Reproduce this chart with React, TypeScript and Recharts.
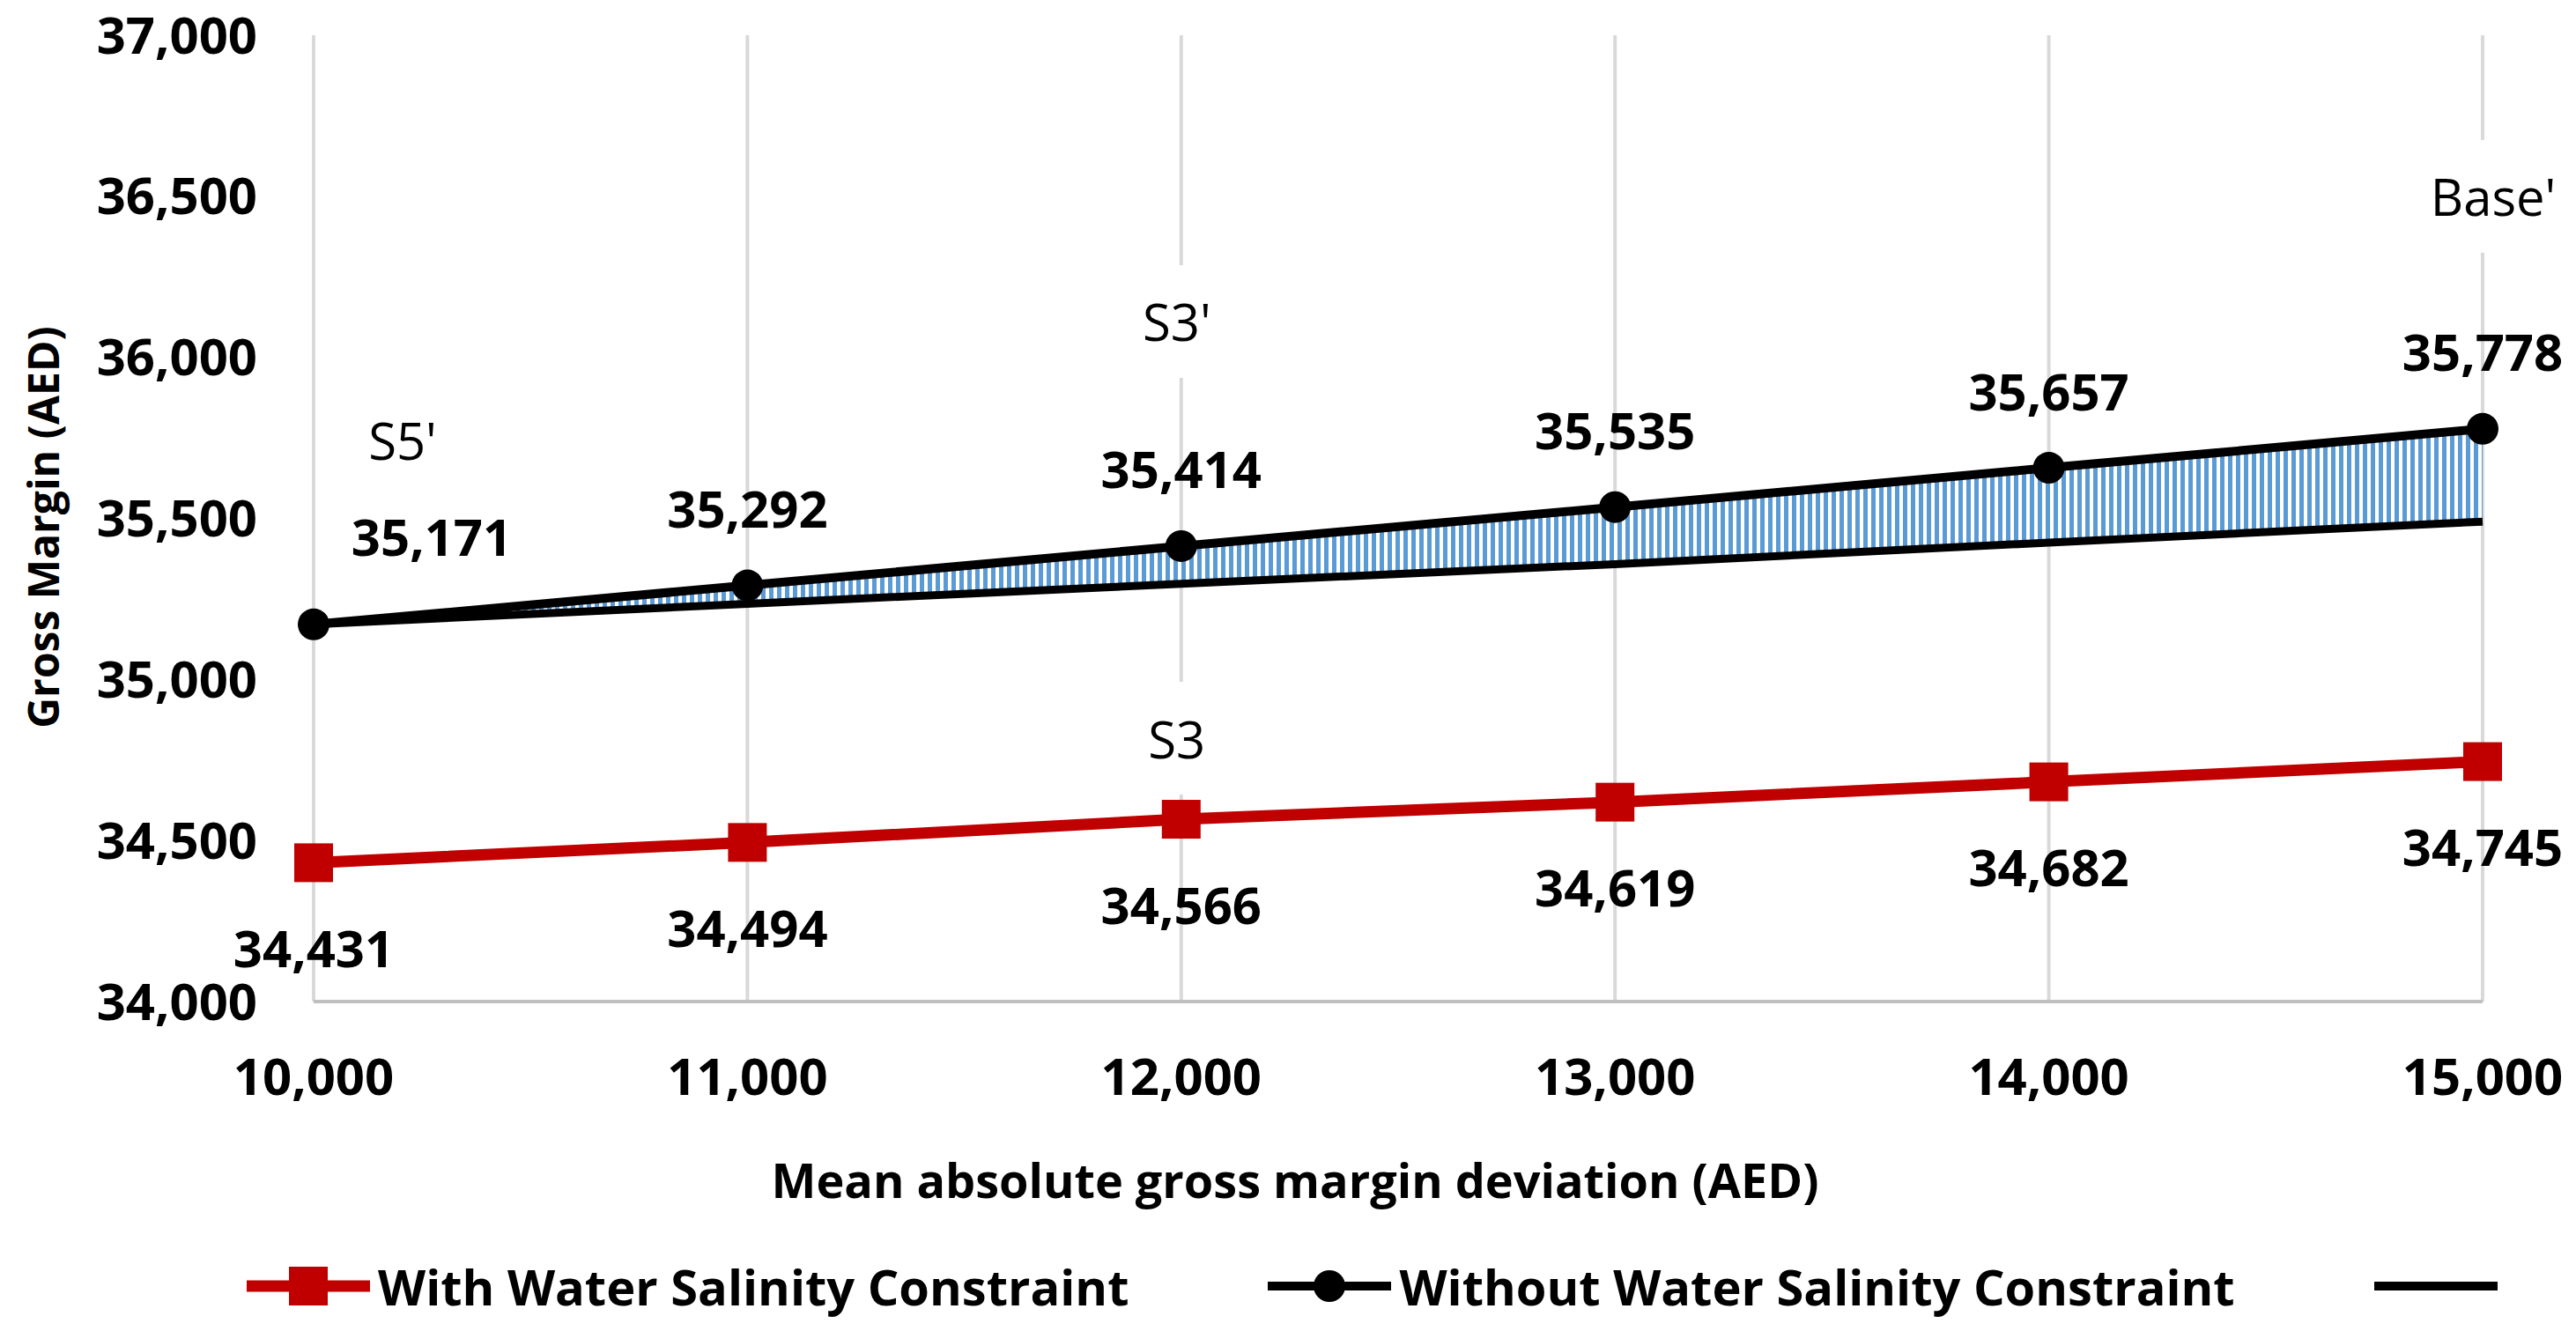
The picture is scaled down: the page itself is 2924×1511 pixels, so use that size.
import React from 'react';
import {
  ComposedChart,
  Line,
  Area,
  XAxis,
  YAxis,
  CartesianGrid,
  LabelList,
  Legend,
} from 'recharts';

// values
const X_VALUES = [10000, 11000, 12000, 13000, 14000, 15000];
const WITH_SALINITY = [34431, 34494, 34566, 34619, 34682, 34745];
const WITHOUT_SALINITY = [35171, 35292, 35414, 35535, 35657, 35778];
const LOWER_TREND = [35171, 35235, 35297, 35358, 35425, 35490];
const UPPER_SCENARIOS = ["S5'", '', "S3'", '', '', "Base'"];
const LOWER_SCENARIOS = ['', '', 'S3', '', '', ''];
const X_TICKS = [10000, 11000, 12000, 13000, 14000, 15000];
const Y_TICKS = [34000, 34500, 35000, 35500, 36000, 36500, 37000];

const FONT = "'Open Sans', 'DejaVu Sans', sans-serif";
const RED = '#C00000';
const HATCH_BLUE = '#5B9BD5';
const GRID = '#d9d9d9';

// label nudges, in px, by point index
const UPPER_VALUE_SHIFT = [[134, -100], [0, -88], [0, -88], [0, -88], [0, -88], [0, -88]];
const UPPER_SCENARIO_SHIFT = [[101, -209], [0, 0], [-5, -255], [0, 0], [0, 0], [12, -264]];
const LOWER_SCENARIO_SHIFT = [[0, 0], [0, 0], [-5, -92], [0, 0], [0, 0], [0, 0]];

const rows = X_VALUES.map((x, i) => ({
  x,
  withSalinity: WITH_SALINITY[i],
  withoutSalinity: WITHOUT_SALINITY[i],
  lowerTrend: LOWER_TREND[i],
  band: [LOWER_TREND[i], WITHOUT_SALINITY[i]],
  upperScenario: UPPER_SCENARIOS[i],
  lowerScenario: LOWER_SCENARIOS[i],
}));

const fmt = (v: number) => v.toLocaleString('en-US');

const SquareDot = (props: any) => {
  const { cx, cy } = props;
  if (cx == null || cy == null) return null;
  return <rect x={cx - 22} y={cy - 22} width={44} height={44} fill={RED} />;
};

const RedValueLabel = (props: any) => {
  const { x, y, value } = props;
  return (
    <text x={x} y={y + 96} textAnchor="middle" dominantBaseline="central"
      fontFamily={FONT} fontWeight={700} fontSize={58} fill="#000">
      {fmt(value)}
    </text>
  );
};

const BlackValueLabel = (props: any) => {
  const { x, y, value, index } = props;
  const [dx, dy] = UPPER_VALUE_SHIFT[index] || [0, -88];
  return (
    <text x={x + dx} y={y + dy} textAnchor="middle" dominantBaseline="central"
      fontFamily={FONT} fontWeight={700} fontSize={58} fill="#000">
      {fmt(value)}
    </text>
  );
};

const makeScenarioLabel = (shifts: number[][]) => (props: any) => {
  const { x, y, value, index } = props;
  if (!value) return null;
  const [dx, dy] = shifts[index] || [0, 0];
  const w = value.length * 34 + 30;
  return (
    <g>
      <rect x={x + dx - w / 2} y={y + dy - 64} width={w} height={128} fill="#fff" />
      <text x={x + dx} y={y + dy} textAnchor="middle" dominantBaseline="central"
        fontFamily={FONT} fontSize={58} fill="#000">
        {value}
      </text>
    </g>
  );
};

const LegendBox = () => {
  const text = { fontFamily: FONT, fontWeight: 700, fontSize: 56, color: '#000', marginLeft: 9, whiteSpace: 'nowrap' as const };
  return (
    <div style={{ display: 'flex', alignItems: 'center', height: 100, paddingLeft: 280 }}>
      <svg width={140} height={60}>
        <line x1={0} x2={140} y1={30} y2={30} stroke={RED} strokeWidth={13} />
        <rect x={48} y={8} width={44} height={44} fill={RED} />
      </svg>
      <span style={text}>With Water Salinity Constraint</span>
      <svg width={140} height={60} style={{ marginLeft: 158 }}>
        <line x1={0} x2={140} y1={30} y2={30} stroke="#000" strokeWidth={10} />
        <circle cx={70} cy={30} r={18} fill="#000" />
      </svg>
      <span style={text}>Without Water Salinity Constraint</span>
      <svg width={140} height={60} style={{ marginLeft: 158 }}>
        <line x1={0} x2={140} y1={30} y2={30} stroke="#000" strokeWidth={10} />
      </svg>
    </div>
  );
};

export default function App() {
  return (
    <div style={{ position: 'absolute', left: 0, top: 0, width: 2924, height: 1511, background: '#fff' }}>
      <svg width={0} height={0} style={{ position: 'absolute' }}>
        <defs>
          <pattern id="vhatch" width={9} height={9} patternUnits="userSpaceOnUse">
            <rect x={0} y={0} width={9} height={9} fill="#fff" />
            <rect x={0} y={0} width={5} height={9} fill={HATCH_BLUE} />
          </pattern>
        </defs>
      </svg>
      <ComposedChart width={2924} height={1511} data={rows}
        margin={{ top: 40, right: 106, bottom: 74, left: 0 }}>
        <CartesianGrid horizontal={false} stroke={GRID} strokeWidth={4} />
        <XAxis
          type="number"
          dataKey="x"
          domain={[10000, 15000]}
          ticks={X_TICKS}
          tickFormatter={fmt}
          height={200}
          tickSize={0}
          tickMargin={65}
          axisLine={{ stroke: '#bfbfbf', strokeWidth: 4 }}
          tick={{ fontFamily: FONT, fontWeight: 700, fontSize: 58, fill: '#000' }}
          label={{
            content: (p: any) => (
              <text x={p.viewBox.x + p.viewBox.width / 2 - 117} y={p.viewBox.y + 202}
                textAnchor="middle" dominantBaseline="central"
                fontFamily={FONT} fontWeight={700} fontSize={54} fill="#000">
                Mean absolute gross margin deviation (AED)
              </text>
            ),
          }}
        />
        <YAxis
          type="number"
          domain={[34000, 37000]}
          ticks={Y_TICKS}
          tickFormatter={fmt}
          width={356}
          tickSize={0}
          tickMargin={64}
          axisLine={false}
          tick={{ fontFamily: FONT, fontWeight: 700, fontSize: 58, fill: '#000' }}
          label={{
            content: (p: any) => {
              const cx = p.viewBox.x + 48;
              const cy = p.viewBox.y + p.viewBox.height / 2 + 10;
              return (
                <text x={cx} y={cy} transform={`rotate(-90, ${cx}, ${cy})`}
                  textAnchor="middle" dominantBaseline="central"
                  fontFamily={FONT} fontWeight={700} fontSize={48} fill="#000">
                  Gross Margin (AED)
                </text>
              );
            },
          }}
        />
        <Legend verticalAlign="bottom" height={100} content={<LegendBox />}
          wrapperStyle={{ left: 0, bottom: 1, width: 2924 }} />
        <Area dataKey="band" fill="url(#vhatch)" stroke="none" fillOpacity={1}
          isAnimationActive={false} legendType="none" />
        <Line dataKey="lowerTrend" stroke="#000" strokeWidth={9} dot={false}
          activeDot={false} isAnimationActive={false} />
        <Line dataKey="withoutSalinity" stroke="#000" strokeWidth={10}
          dot={{ r: 18, fill: '#000', stroke: '#000', strokeWidth: 0 }}
          activeDot={false} isAnimationActive={false}>
          <LabelList dataKey="withoutSalinity" content={<BlackValueLabel />} />
          <LabelList dataKey="upperScenario" content={makeScenarioLabel(UPPER_SCENARIO_SHIFT)} />
        </Line>
        <Line dataKey="withSalinity" stroke={RED} strokeWidth={13}
          dot={<SquareDot />} activeDot={false} isAnimationActive={false}>
          <LabelList dataKey="withSalinity" content={<RedValueLabel />} />
          <LabelList dataKey="lowerScenario" content={makeScenarioLabel(LOWER_SCENARIO_SHIFT)} />
        </Line>
      </ComposedChart>
    </div>
  );
}
